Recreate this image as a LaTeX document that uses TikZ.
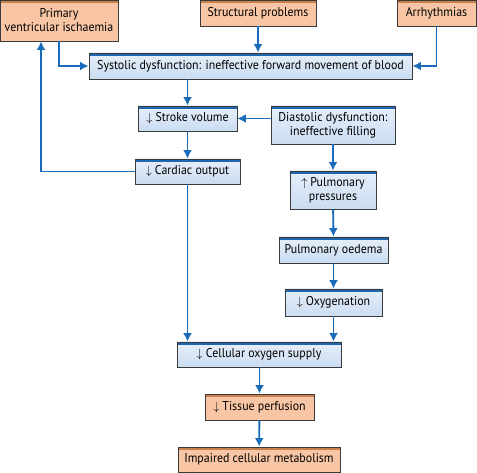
\documentclass[tikz,border=0pt]{standalone}
\usepackage{fontspec}
\setmainfont{PT Sans}[FakeStretch=0.93]
\usepackage{tikz}
\usetikzlibrary{arrows.meta}

\definecolor{flowblue}{HTML}{1A6BBA}
\definecolor{bandblue}{HTML}{1F66B0}
\definecolor{fillbluetop}{HTML}{E6EFFA}
\definecolor{fillbluebot}{HTML}{CBDCF1}
\definecolor{bandorange}{HTML}{C8804C}
\definecolor{fillorange}{HTML}{F8C6A4}
\definecolor{boxline}{HTML}{3A3A3A}

\tikzset{
	box/.style={draw=boxline, line width=0.9pt, rectangle, inner sep=2pt,
		align=center, font=\fontsize{12.8}{14}\selectfont},
	bluebox/.style={box, top color=fillbluetop, bottom color=fillbluebot,
		path picture={\fill[bandblue] (path picture bounding box.north west)
			rectangle ([yshift=-3pt]path picture bounding box.north east);}},
	causebox/.style={box, fill=fillorange,
		path picture={\fill[bandorange] (path picture bounding box.north west)
			rectangle ([yshift=-3pt]path picture bounding box.north east);}},
	flow/.style={->, >={Latex[length=8.5pt,width=9pt]}, line width=1.9pt, flowblue}
}

\begin{document}
\begin{tikzpicture}[x=1pt, y=-1pt]
	\useasboundingbox (0,0) rectangle (477,473);

	\node[causebox, minimum width=118pt, minimum height=41pt] (ischaemia) at (59,20.5)
		{Primary\\ventricular ischaemia};
	\node[causebox, minimum width=116pt, minimum height=26pt] (structural) at (258,13)
		{Structural problems};
	\node[causebox, minimum width=79pt, minimum height=26pt] (arrhythmia) at (436.5,13)
		{Arrhythmias};
	\node[bluebox, minimum width=323pt, minimum height=26pt] (systolic) at (250.5,66)
		{Systolic dysfunction: ineffective forward movement of blood};
	\node[bluebox, minimum width=99pt, minimum height=25pt] (stroke) at (187.5,118.5)
		{$\downarrow$ Stroke volume};
	\node[bluebox, minimum width=124pt, minimum height=38pt] (diastolic) at (333,125)
		{Diastolic dysfunction:\\ineffective filling};
	\node[bluebox, minimum width=105pt, minimum height=25pt] (cardiac) at (187.5,171.5)
		{$\downarrow$ Cardiac output};
	\node[bluebox, minimum width=86pt, minimum height=38pt] (pulmonary) at (333,190)
		{$\uparrow$ Pulmonary\\pressures};
	\node[bluebox, minimum width=109pt, minimum height=26pt] (oedema) at (333.5,250)
		{Pulmonary oedema};
	\node[bluebox, minimum width=97pt, minimum height=27pt] (oxygenation) at (333.5,302.5)
		{$\downarrow$ Oxygenation};
	\node[bluebox, minimum width=164pt, minimum height=25pt] (supply) at (259,354.5)
		{$\downarrow$ Cellular oxygen supply};
	\node[causebox, minimum width=109pt, minimum height=26pt] (perfusion) at (259.5,407)
		{$\downarrow$ Tissue perfusion};
	\node[causebox, minimum width=162pt, minimum height=25pt] (metabolism) at (259,459.5)
		{Impaired cellular metabolism};

	\draw[flow] (ischaemia.south) |- (systolic.west);
	\draw[flow] (structural.south) -- (structural.south |- systolic.north);
	\draw[flow] (arrhythmia.south) |- (systolic.east);
	\draw[flow] (stroke.north |- systolic.south) -- (stroke.north);
	\draw[flow] (diastolic.west |- stroke.east) -- (stroke.east);
	\draw[flow] (stroke) -- (cardiac);
	\draw[flow] (cardiac.west) -| ([xshift=-18pt]ischaemia.south);
	\draw[flow] (cardiac.south) -- (cardiac.south |- supply.north);
	\draw[flow] (diastolic) -- (pulmonary);
	\draw[flow] (pulmonary) -- (oedema);
	\draw[flow] (oedema) -- (oxygenation);
	\draw[flow] (oxygenation.south) -- (oxygenation.south |- supply.north);
	\draw[flow] (supply.south -| perfusion.north) -- (perfusion.north);
	\draw[flow] (perfusion) -- (metabolism);
\end{tikzpicture}
\end{document}
